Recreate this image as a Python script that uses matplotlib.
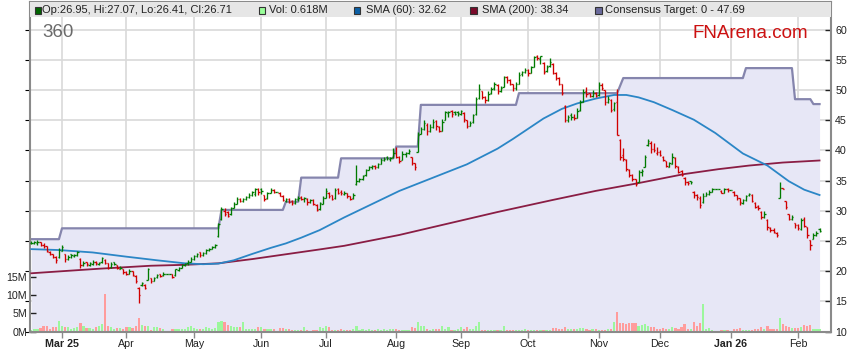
import matplotlib
matplotlib.use("Agg")
import matplotlib.pyplot as plt
from matplotlib.patches import Rectangle
import numpy as np
import pandas as pd

W, H, DPI = 859, 363, 100

# ---------------- data ----------------
dates = pd.bdate_range("2025-02-17", periods=258)

opens = [
 24.6, 24.6, 24.7, 24.9, 24.4, 24.1, 23.2, 22.8, 22.3, 22.3,
 23.4, 22.8, 22.0, 22.8, 22.5, 22.6, 22.0, 21.0, 21.5, 21.0,
 21.2, 21.5, 21.2, 21.5, 21.9, 21.3, 20.7, 21.5, 21.0, 20.4,
 20.3, 19.9, 19.6, 20.0, 19.2, 17.2, 17.7, 17.7, 18.6, 18.8,
 18.4, 19.0, 19.5, 19.3, 19.6, 19.6, 19.5, 19.3, 20.2, 20.6,
 21.0, 21.3, 21.6, 22.0, 22.5, 23.1, 22.6, 23.0, 23.5, 23.7,
 24.0, 25.8, 28.6, 30.0, 29.8, 29.4, 30.5, 31.2, 32.0, 31.6,
 31.9, 32.3, 32.7, 32.8, 33.6, 33.6, 32.6, 32.2, 33.0, 33.5,
 33.1, 33.0, 32.5, 31.6, 32.0, 31.6, 31.3, 31.9, 32.3, 31.9,
 32.0, 31.5, 31.8, 31.0, 30.3, 31.2, 32.2, 33.0, 32.6, 32.1,
 33.6, 33.2, 32.8, 32.9, 32.4, 32.1, 34.5, 34.9, 35.3, 35.9,
 36.8, 37.2, 37.5, 37.3, 37.8, 38.4, 38.9, 38.6, 38.9, 39.6,
 38.9, 38.5, 39.4, 39.6, 39.0, 37.9, 39.8, 42.8, 43.6, 44.3,
 43.3, 43.9, 44.9, 43.9, 43.3, 45.1, 46.2, 46.5, 46.3, 46.4,
 46.0, 46.2, 45.0, 44.1, 44.7, 46.0, 48.7, 49.8, 48.8, 48.4,
 49.5, 50.3, 50.9, 49.9, 50.6, 52.1, 51.7, 51.0, 50.3, 51.1,
 52.6, 53.0, 53.3, 52.9, 53.9, 55.6, 55.2, 54.5, 53.1, 54.0,
 54.4, 52.9, 52.0, 51.0, 47.4, 45.0, 45.8, 45.6, 45.4, 46.7,
 48.1, 49.8, 49.5, 49.0, 49.6, 49.2, 50.9, 50.0, 48.0, 48.3,
 46.8, 48.0, 41.8, 39.3, 38.5, 36.8, 35.9, 35.2, 34.8, 36.4,
 37.3, 40.9, 41.3, 40.2, 39.6, 39.8, 39.0, 38.2, 37.3, 37.8,
 38.8, 37.3, 36.6, 35.5, 34.8, 34.9, 33.2, 32.6, 32.2, 31.4,
 32.5, 32.8, 33.2, 33.6, 33.6, 33.3, 33.0, 33.6, 33.4, 33.2,
 32.6, 32.1, 31.3, 31.8, 32.6, 32.7, 31.3, 30.8, 29.8, 28.9,
 28.5, 27.2, 26.9, 26.4, 32.2, 33.7, 31.6, 29.5, 28.6, 27.9,
 27.7, 27.0, 28.6, 27.3, 25.2, 25.4, 26.0, 26.95]

highs = [
 25.0, 25.0, 25.1, 24.9, 24.6, 24.2, 23.4, 22.9, 22.5, 23.9,
 24.3, 22.9, 22.7, 22.9, 22.9, 23.4, 22.1, 21.7, 21.6, 21.5,
 21.8, 21.7, 21.6, 22.4, 22.0, 21.4, 21.5, 21.6, 21.1, 20.9,
 20.4, 20.0, 20.3, 20.1, 19.3, 17.3, 18.2, 17.8, 20.5, 18.9,
 19.1, 19.6, 19.6, 19.8, 19.6, 19.6, 19.6, 20.4, 20.7, 21.2,
 21.4, 21.8, 22.3, 22.6, 23.0, 23.2, 23.1, 23.7, 23.8, 24.2,
 24.5, 28.0, 30.7, 30.5, 30.0, 30.7, 31.4, 32.3, 32.2, 32.1,
 32.5, 32.9, 33.3, 33.8, 33.8, 33.7, 32.7, 33.2, 33.7, 33.6,
 33.1, 33.1, 32.6, 32.2, 32.2, 31.8, 32.1, 32.4, 32.4, 32.3,
 32.1, 32.0, 31.9, 31.1, 31.5, 32.4, 33.7, 33.1, 32.7, 33.8,
 33.7, 33.4, 33.3, 33.0, 32.5, 32.9, 37.6, 35.5, 36.0, 37.0,
 37.4, 37.6, 37.6, 38.0, 38.7, 38.9, 39.1, 39.0, 40.4, 40.6,
 39.1, 39.9, 39.8, 40.2, 39.0, 38.0, 43.1, 43.9, 45.0, 44.5,
 44.4, 45.2, 45.0, 44.0, 45.2, 46.5, 46.6, 46.7, 46.5, 46.6,
 46.7, 46.3, 45.1, 44.9, 46.1, 48.9, 51.1, 49.9, 49.0, 49.8,
 50.6, 51.3, 51.0, 50.7, 52.3, 52.3, 51.8, 51.1, 51.4, 53.0,
 53.2, 53.6, 53.5, 54.0, 55.6, 55.85, 55.7, 54.6, 54.2, 55.3,
 54.5, 53.0, 52.1, 51.1, 47.6, 45.8, 46.2, 46.0, 47.0, 48.4,
 50.2, 50.6, 49.6, 50.0, 49.7, 51.3, 51.2, 50.1, 49.0, 48.5,
 48.0, 50.2, 41.9, 40.4, 38.6, 37.0, 36.1, 35.3, 36.8, 37.0,
 39.3, 41.9, 41.5, 41.3, 40.5, 40.1, 39.1, 38.3, 38.1, 39.6,
 38.9, 37.4, 36.7, 35.6, 35.0, 35.0, 33.3, 32.8, 32.5, 32.9,
 33.1, 33.4, 33.8, 33.6, 33.6, 33.4, 33.8, 33.7, 33.4, 33.3,
 32.7, 32.2, 31.9, 32.7, 33.0, 32.8, 31.5, 30.9, 29.9, 29.9,
 28.6, 27.3, 27.1, 26.5, 34.7, 33.7, 31.7, 29.5, 29.3, 27.9,
 27.8, 28.8, 29.0, 27.4, 25.2, 26.3, 26.7, 27.07]

lows = [
 24.5, 24.5, 24.4, 24.1, 23.8, 23.1, 22.6, 22.1, 21.3, 22.2,
 23.3, 21.6, 21.8, 22.2, 22.3, 22.5, 20.6, 20.8, 20.9, 20.8,
 21.0, 21.0, 21.0, 21.3, 21.2, 20.3, 20.6, 21.0, 20.3, 20.3,
 19.5, 19.3, 19.5, 19.2, 18.1, 14.8, 17.6, 17.0, 18.5, 18.0,
 18.3, 18.9, 19.0, 19.2, 19.6, 19.6, 18.9, 19.2, 20.1, 20.5,
 20.9, 21.1, 21.5, 21.9, 22.3, 22.4, 22.5, 22.9, 23.3, 23.6,
 23.9, 25.7, 28.5, 29.1, 28.9, 29.3, 30.4, 31.1, 31.5, 31.4,
 31.8, 32.2, 32.5, 32.4, 32.6, 32.8, 31.6, 32.0, 32.9, 32.9,
 33.1, 32.4, 31.6, 31.4, 31.3, 31.0, 31.2, 31.7, 31.8, 31.5,
 30.9, 31.3, 31.0, 29.9, 30.2, 31.1, 32.1, 32.2, 31.8, 32.0,
 32.8, 32.7, 32.7, 32.1, 31.8, 32.0, 34.3, 34.8, 35.1, 35.8,
 36.7, 37.0, 37.0, 37.1, 37.7, 38.2, 38.4, 38.3, 38.8, 38.7,
 37.9, 38.4, 38.9, 39.4, 37.6, 36.7, 39.7, 42.7, 43.4, 42.6,
 43.1, 43.8, 43.4, 43.0, 43.2, 45.0, 45.6, 45.6, 45.8, 45.7,
 45.9, 44.8, 43.8, 44.0, 44.6, 45.9, 48.6, 48.6, 47.8, 48.2,
 49.3, 50.0, 49.4, 49.7, 50.5, 51.2, 50.9, 49.9, 50.1, 51.0,
 52.4, 52.8, 52.4, 52.8, 53.8, 55.0, 54.4, 52.6, 53.0, 53.9,
 52.6, 51.6, 50.8, 49.2, 44.7, 44.8, 45.1, 45.0, 45.3, 46.6,
 48.0, 48.9, 48.8, 48.8, 48.8, 49.1, 50.1, 47.6, 47.9, 46.3,
 46.5, 42.5, 38.4, 38.3, 36.6, 35.6, 34.9, 34.1, 34.7, 35.8,
 37.2, 40.8, 39.5, 39.8, 39.3, 39.1, 38.2, 37.2, 37.2, 37.7,
 37.1, 36.2, 35.8, 34.3, 34.3, 34.5, 32.1, 31.8, 30.4, 31.3,
 32.4, 32.7, 33.1, 33.6, 33.6, 32.9, 32.9, 33.2, 33.4, 32.4,
 31.8, 31.0, 31.2, 31.7, 32.5, 31.4, 30.4, 30.1, 28.6, 28.8,
 26.8, 26.5, 26.3, 25.6, 32.2, 33.6, 30.3, 28.4, 28.5, 27.1,
 26.8, 26.8, 27.3, 25.5, 23.5, 25.3, 25.9, 26.41]

closes = [
 24.7, 24.8, 24.9, 24.3, 24.2, 23.3, 22.8, 22.4, 21.9, 23.5,
 24.0, 22.0, 22.4, 22.6, 22.7, 23.1, 21.0, 21.4, 21.2, 21.3,
 21.6, 21.3, 21.4, 22.2, 21.4, 20.5, 21.2, 21.2, 20.5, 20.6,
 19.8, 19.5, 20.1, 19.4, 18.4, 16.0, 18.0, 17.2, 20.3, 18.3,
 18.9, 19.4, 19.2, 19.6, 19.6, 19.6, 19.1, 20.3, 20.5, 21.0,
 21.2, 21.6, 22.0, 22.5, 22.8, 22.6, 23.0, 23.5, 23.7, 24.0,
 24.3, 27.8, 30.3, 29.4, 29.2, 30.5, 31.2, 32.0, 31.6, 31.9,
 32.3, 32.7, 33.1, 33.6, 33.1, 33.3, 32.0, 33.0, 33.5, 33.1,
 33.1, 32.5, 31.8, 31.9, 31.5, 31.3, 31.9, 32.2, 32.0, 32.1,
 31.5, 31.8, 31.2, 30.2, 31.3, 32.2, 33.3, 32.4, 32.0, 33.5,
 33.0, 32.9, 33.0, 32.5, 32.0, 32.6, 35.0, 35.2, 35.8, 36.7,
 37.2, 37.4, 37.3, 37.8, 38.4, 38.6, 38.8, 38.8, 39.6, 38.9,
 38.3, 39.4, 39.6, 39.9, 37.9, 37.2, 42.6, 43.6, 44.6, 43.3,
 43.9, 44.7, 44.0, 43.2, 44.8, 46.3, 46.4, 46.0, 46.0, 46.2,
 46.6, 45.2, 44.0, 44.6, 45.8, 48.5, 50.2, 48.9, 48.3, 49.4,
 50.2, 51.0, 49.8, 50.4, 52.1, 51.7, 51.1, 50.3, 51.0, 52.5,
 53.0, 53.4, 52.8, 53.8, 55.5, 55.4, 55.6, 53.0, 53.9, 54.6,
 52.8, 52.0, 51.0, 49.5, 45.0, 45.5, 45.5, 45.4, 46.6, 48.0,
 49.7, 49.4, 49.0, 49.5, 49.0, 50.9, 50.4, 48.0, 48.5, 46.7,
 47.8, 42.6, 39.0, 38.6, 37.0, 36.0, 35.3, 34.5, 36.5, 36.6,
 39.0, 41.5, 40.3, 40.1, 39.8, 39.3, 38.4, 37.5, 37.9, 39.0,
 37.4, 36.5, 35.9, 34.8, 34.6, 34.7, 32.6, 32.3, 31.0, 32.5,
 32.8, 33.2, 33.6, 33.6, 33.6, 33.0, 33.6, 33.4, 33.4, 32.6,
 32.2, 31.4, 31.8, 32.5, 32.8, 31.7, 30.7, 30.4, 29.0, 29.4,
 27.4, 26.8, 26.5, 26.0, 33.7, 33.6, 30.6, 28.6, 29.0, 27.6,
 27.2, 28.5, 27.5, 26.0, 24.3, 26.0, 26.4, 26.71]

volumes_m = [
 0.5, 0.6, 0.7, 0.9, 1.5, 1.5, 0.7, 1.2, 1.2, 2.9,
 1.4, 1.2, 1.1, 0.7, 0.9, 1.2, 2.3, 1.4, 0.9, 0.9,
 0.7, 1.2, 1.4, 2.1, 10.3, 1.4, 1.1, 0.7, 0.9, 0.9,
 0.7, 1.1, 1.1, 0.9, 1.4, 3.6, 1.8, 1.4, 1.4, 0.5,
 1.1, 1.1, 0.9, 0.7, 0.0, 0.0, 0.6, 0.7, 0.6, 0.8,
 0.7, 1.2, 1.5, 0.9, 0.7, 0.7, 0.6, 1.2, 0.9, 0.8,
 0.9, 2.7, 2.9, 2.5, 1.8, 1.4, 1.1, 1.1, 1.2, 2.5,
 0.7, 0.7, 0.6, 0.7, 1.3, 1.3, 0.6, 0.6, 0.6, 0.6,
 0.0, 1.0, 0.9, 0.6, 0.7, 0.5, 0.4, 0.4, 0.5, 1.1,
 0.4, 0.2, 0.3, 0.3, 1.1, 0.9, 1.4, 1.1, 0.5, 0.5,
 0.3, 0.8, 0.5, 0.5, 0.5, 0.8, 1.6, 0.5, 0.8, 0.5,
 0.8, 0.5, 0.5, 0.8, 0.5, 0.8, 0.3, 0.8, 0.7, 0.7,
 0.3, 0.5, 0.3, 0.3, 1.1, 0.9, 2.5, 1.6, 1.6, 0.8,
 0.5, 0.8, 0.8, 0.8, 1.6, 0.8, 1.1, 0.5, 0.5, 0.8,
 1.1, 0.8, 1.1, 0.8, 0.8, 1.6, 2.7, 0.5, 0.5, 0.5,
 0.5, 0.5, 0.5, 0.5, 1.4, 0.5, 0.5, 0.5, 0.5, 0.5,
 0.3, 0.8, 0.3, 0.3, 0.5, 0.3, 0.5, 0.5, 0.3, 0.5,
 1.0, 1.0, 0.7, 0.6, 1.3, 0.7, 0.6, 0.6, 0.6, 1.0,
 1.0, 0.6, 0.3, 0.6, 0.6, 0.5, 0.5, 0.4, 0.6, 0.7,
 2.5, 5.2, 2.3, 2.3, 2.0, 2.3, 2.3, 2.3, 1.6, 1.8,
 2.0, 1.6, 1.2, 1.1, 0.6, 0.6, 0.9, 0.7, 0.7, 1.1,
 0.9, 0.7, 1.2, 2.0, 0.8, 0.8, 2.5, 1.4, 2.3, 7.6,
 0.8, 0.9, 0.3, 0.0, 0.0, 0.5, 0.5, 0.3, 0.0, 0.7,
 0.6, 1.0, 0.5, 0.5, 0.5, 0.5, 0.6, 0.6, 1.2, 0.8,
 1.5, 0.8, 0.8, 0.7, 3.6, 2.1, 1.4, 1.1, 1.0, 1.0,
 0.9, 1.1, 1.8, 1.6, 1.8, 0.7, 0.7, 0.618]

sma60_day = [0, 9, 20, 31, 41, 50, 56, 61, 66, 72, 78, 83, 88, 94, 102, 111, 120,
             131, 142, 152, 157, 162, 167, 173, 178, 184, 190, 194, 198, 203, 209,
             216, 223, 232, 240, 247, 252, 257]
sma60_val = [23.65, 23.5, 23.1, 22.4, 21.8, 21.3, 21.15, 21.25, 21.8, 22.85, 23.85,
             24.6, 25.55, 26.8, 28.9, 31.1, 33.3, 35.5, 37.7, 40.3, 41.9, 43.6, 45.3,
             46.9, 47.8, 48.6, 49.2, 49.2, 48.8, 48.0, 46.7, 45.1, 42.9, 39.5, 37.5,
             34.9, 33.5, 32.62]

sma200_day = [0, 22, 39, 50, 61, 72, 83, 94, 102, 120, 136, 152, 170, 184, 197,
              203, 213, 224, 234, 245, 257]
sma200_val = [19.65, 20.4, 20.9, 21.05, 21.3, 22.0, 22.8, 23.6, 24.2, 26.0, 27.9,
              29.8, 31.8, 33.3, 34.5, 35.1, 36.1, 36.9, 37.5, 38.0, 38.34]

target_day = [0, 9, 10, 61, 62, 82, 83, 87, 88, 100, 101, 118, 119, 126, 127, 158,
              159, 191, 193, 232, 233, 248, 249, 254, 255, 257]
target_val = [25.3, 25.3, 27.1, 27.1, 30.15, 30.15, 31.5, 31.5, 35.5, 35.5, 38.7,
              38.7, 40.65, 40.65, 47.56, 47.56, 49.5, 49.5, 52.0, 52.0, 53.65, 53.65,
              48.5, 48.5, 47.69, 47.69]

month_labels = ["Mar 25", "Apr", "May", "Jun", "Jul", "Aug", "Sep", "Oct",
                "Nov", "Dec", "Jan 26", "Feb"]
price_ticks = [10, 15, 20, 25, 30, 35, 40, 45, 50, 55, 60]
vol_ticks = [0, 5, 10, 15]
vol_tick_labels = ["0M", "5M", "10M", "15M"]

legend_items = [
    ("Op:26.95, Hi:27.07, Lo:26.41, Cl:26.71", "#006400"),
    ("Vol: 0.618M", "#99ff99"),
    ("SMA (60): 32.62", "#0b5fa5"),
    ("SMA (200): 38.34", "#7a0a2a"),
    ("Consensus Target: 0 - 47.69", "#6a6a9c"),
]

# ---------------- style ----------------
plt.rcParams['font.family'] = ['Liberation Sans', 'DejaVu Sans']

GREEN = "#007a00"
RED = "#d00000"
VGREEN = "#9cf79c"
VRED = "#ff9c9c"
FILL = "#e7e7f6"
TARGET = "#8585ad"
SMA60C = "#2b86c6"
SMA200C = "#8a1d44"
GRID = "#d9d9d9"
SPINE = "#8a8a8a"
TXT = "#222222"

o = np.array(opens); h = np.array(highs); l = np.array(lows); c = np.array(closes)
v = np.array(volumes_m)
n = len(c)
x = np.arange(n)
prev = np.concatenate([[o[0]], c[:-1]])
up = c >= prev
bar_cols = np.where(up, GREEN, RED)
vol_cols = np.where(up, VGREEN, VRED)

fig = plt.figure(figsize=(W / DPI, H / DPI), dpi=DPI)
fig.patch.set_facecolor("white")

left_px, right_px, top_px, bot_px = 30, 831, 2, 331.5
ax = fig.add_axes([left_px / W, 1 - bot_px / H, (right_px - left_px) / W, (bot_px - top_px) / H])
px_per_unit = 301.7 / 50.0
ymax = 10 + (bot_px - top_px) / px_per_unit
vol_px_per_m = 18.3 / 5.0
vmax = (bot_px - top_px) / vol_px_per_m
xl = ((left_px - 31.33) / 3.067, (right_px - 31.33) / 3.067)

# background axis: grid, fill, target line
ax.set_xlim(*xl)
ax.set_ylim(10, ymax)
ax.set_axisbelow(True)
ax.set_yticks(price_ticks)
ax.tick_params(axis='y', left=False, labelleft=False)
ax.grid(True, color=GRID, linewidth=1.2)
ax.fill_between(target_day, target_val, 10, color=FILL, linewidth=0, zorder=1)
ax.plot(target_day, target_val, color=TARGET, linewidth=1.6, zorder=2)
for s in ax.spines.values():
    s.set_visible(False)

# month ticks
months = dates.to_period('M')
month_pos = [int(np.where(months == m)[0][0]) for m in months.unique()[1:]]
ax.set_xticks(month_pos)
ax.set_xticklabels(month_labels)
ax.tick_params(axis='x', direction='out', length=4, width=1, color=SPINE,
               labelsize=7.7, labelcolor=TXT, pad=1.5)
for t in ax.get_xticklabels():
    if t.get_text() in ("Mar 25", "Jan 26"):
        t.set_fontweight('bold')

# volume axis
axv = ax.twinx()
axv.set_zorder(1)
axv.patch.set_visible(False)
axv.set_ylim(0, vmax)
axv.bar(x, v, width=0.72, color=vol_cols, linewidth=0)
axv.yaxis.set_ticks_position('left')
axv.set_yticks(vol_ticks)
axv.set_yticklabels(vol_tick_labels)
axv.tick_params(axis='y', direction='in', length=4, width=1, color="#222222",
                labelsize=7.7, labelcolor=TXT, pad=2)
for s in axv.spines.values():
    s.set_visible(False)

# price axis
axp = ax.twinx()
axp.set_zorder(2)
axp.patch.set_visible(False)
axp.set_ylim(10, ymax)
axp.set_xlim(*xl)
axp.plot(sma200_day, sma200_val, color=SMA200C, linewidth=1.3, zorder=3)
axp.plot(sma60_day, sma60_val, color=SMA60C, linewidth=1.3, zorder=3)
lw = 0.95
axp.vlines(x, l, h, colors=bar_cols, linewidth=lw, zorder=4)
axp.hlines(o, x - 0.45, x, colors=bar_cols, linewidth=lw, zorder=4)
axp.hlines(c, x, x + 0.45, colors=bar_cols, linewidth=lw, zorder=4)
axp.set_yticks(price_ticks)
axp.set_yticklabels([str(t) for t in price_ticks])
axp.tick_params(axis='y', direction='in', length=4, width=1, color="#222222",
                labelsize=7.7, labelcolor=TXT, pad=3)
for name, s in axp.spines.items():
    s.set_color(SPINE)
    s.set_linewidth(1.5)

# legend strip
strip_h = 14.5 / (bot_px - top_px)
axp.add_patch(Rectangle((0, 1 - strip_h), 1, strip_h, transform=axp.transAxes,
                        facecolor="#e6e6e6", edgecolor="none", zorder=10, clip_on=False))

sq_x = [34.5, 258.5, 353.5, 470.0, 595.0]
tx_x = [42.5, 269.0, 366.0, 482.0, 605.0]
for (label, col), sx, tx in zip(legend_items, sq_x, tx_x):
    fig.add_artist(Rectangle((sx / W, 1 - 13.5 / H), 6.5 / W, 6.5 / H,
                             transform=fig.transFigure, facecolor=col,
                             edgecolor="#333333", linewidth=0.8, zorder=20))
    fig.text(tx / W, 1 - 10.3 / H, label, fontsize=8, color=TXT,
             ha='left', va='center', zorder=20)

fig.text(42 / W, 1 - 32.5 / H, "360", fontsize=13.5, color="#6a6a6a",
         ha='left', va='center')
fig.text(750.5 / W, 1 - 33.5 / H, "FNArena.com", fontsize=13.5, color="#cc1111",
         ha='center', va='center')

fig.savefig("out.png", dpi=DPI, facecolor="white")
